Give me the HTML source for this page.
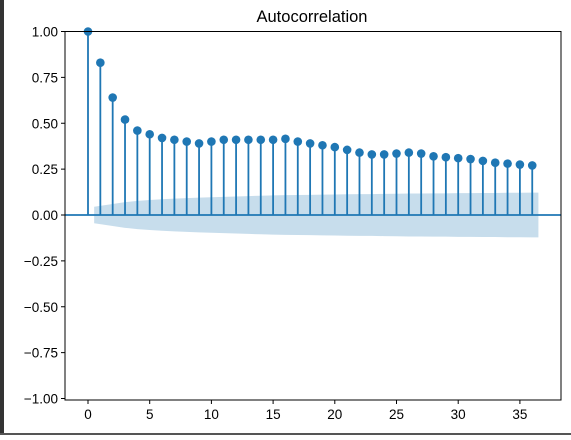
<!DOCTYPE html>
<html><head><meta charset="utf-8"><style>
body{margin:0;width:571px;height:435px;overflow:hidden;background:#fff;font-family:"Liberation Sans","DejaVu Sans",sans-serif}
</style></head><body>
<svg id="c" width="571" height="435" xmlns="http://www.w3.org/2000/svg">
<rect x="0" y="0" width="4" height="435" fill="#333"/>
<rect x="0" y="433" width="571" height="2" fill="#555"/>
<text x="312" y="22" text-anchor="middle" font-size="16.5" fill="#000">Autocorrelation</text>
<g id="plot"></g>
</svg>
<script>
const lags=[0,1,2,3,4,5,6,7,8,9,10,11,12,13,14,15,16,17,18,19,20,21,22,23,24,25,26,27,28,29,30,31,32,33,34,35,36];
const acf=[1,0.83,0.64,0.52,0.46,0.44,0.42,0.41,0.40,0.39,0.40,0.41,0.41,0.41,0.41,0.41,0.415,0.40,0.39,0.38,0.37,0.355,0.34,0.33,0.33,0.335,0.34,0.335,0.32,0.315,0.31,0.305,0.295,0.285,0.28,0.275,0.27];
const band=[0.03,0.045,0.06,0.07,0.077,0.082,0.086,0.089,0.092,0.095,0.097,0.099,0.101,0.103,0.105,0.107,0.108,0.109,0.110,0.111,0.112,0.113,0.114,0.114,0.115,0.116,0.117,0.117,0.118,0.118,0.119,0.119,0.120,0.120,0.121,0.121,0.122];
const yTicks=[-1,-0.75,-0.5,-0.25,0,0.25,0.5,0.75,1];
const xTicks=[0,5,10,15,20,25,30,35];
const L=65,R=561,T=31.5,B=400;
const X=v=>88+v*12.34;
const Y=v=>215-v*183.5;
const ns="http://www.w3.org/2000/svg";
const g=document.getElementById('plot');
function mk(t,a){const e=document.createElementNS(ns,t);for(const k in a)e.setAttribute(k,a[k]);g.appendChild(e);return e;}
let up=[],lo=[];
for(let i=1;i<lags.length;i++){const x0=i===1?X(0.5):X(lags[i]);up.push(x0+','+Y(band[i]));lo.unshift(x0+','+Y(-band[i]));}
up.push(X(36.5)+','+Y(band[band.length-1]));lo.unshift(X(36.5)+','+Y(-band[band.length-1]));
const bp=mk('polygon',{points:up.concat(lo).join(' '),fill:'#1f77b4','fill-opacity':'0.25'});


const zl=mk('line',{x1:L,x2:R,y1:Y(0),y2:Y(0),stroke:'#1f77b4','stroke-width':1.8});


for(let i=0;i<lags.length;i++){
 const s=mk('line',{x1:X(lags[i]),x2:X(lags[i]),y1:Y(0),y2:Y(acf[i]),stroke:'#1f77b4','stroke-width':1.8});
 
 
 const c=mk('circle',{cx:X(lags[i]),cy:Y(acf[i]),r:4.3,fill:'#1f77b4'});
 
 
}
const fr=mk('rect',{x:L,y:T,width:R-L,height:B-T,fill:'none',stroke:'#000','stroke-width':1});


for(const v of yTicks){
 mk('line',{x1:L-4,x2:L,y1:Y(v),y2:Y(v),stroke:'#000'});
 const t=mk('text',{x:L-7,y:Y(v)+5,'text-anchor':'end','font-size':13.5,fill:'#000'});
 t.textContent=v.toFixed(2).replace('-','\u2212');
 
 
}
for(const v of xTicks){
 mk('line',{x1:X(v),x2:X(v),y1:B,y2:B+4,stroke:'#000'});
 const t=mk('text',{x:X(v),y:B+19,'text-anchor':'middle','font-size':13.5,fill:'#000'});
 t.textContent=v;
 
 
}
</script>
</body></html>
